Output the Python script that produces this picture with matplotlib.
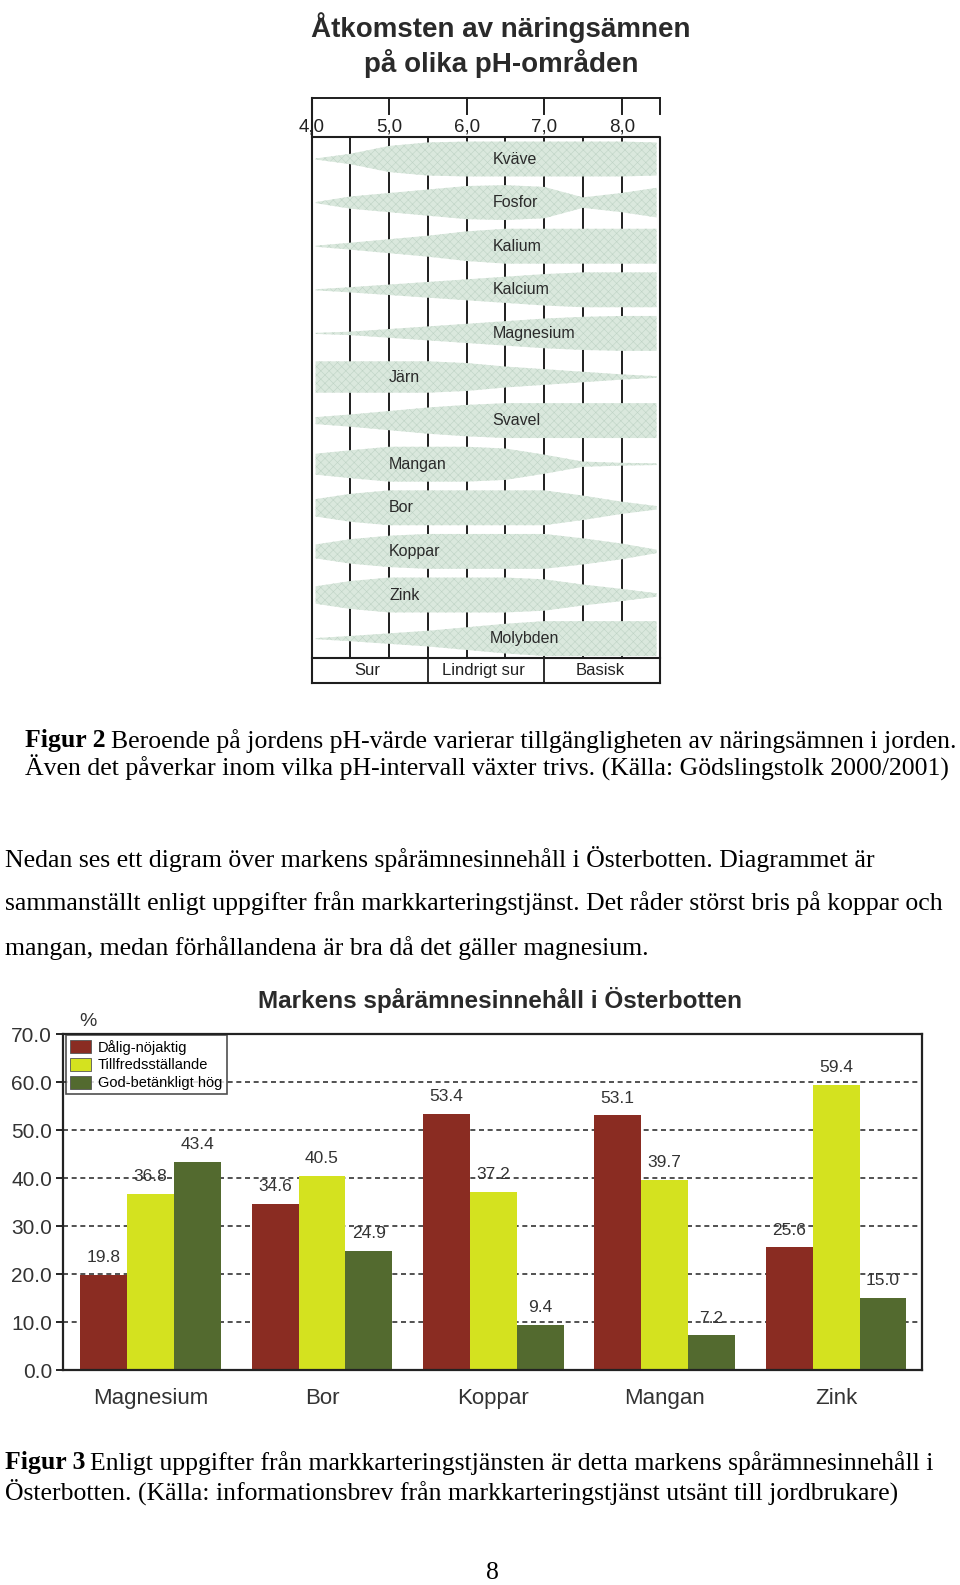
import matplotlib
matplotlib.use("Agg")
import matplotlib.pyplot as plt
import numpy as np
from matplotlib.patches import Patch

W, H = 960, 1585

# --- data: pH-diagram (relativ bandtjocklek vid varje pH) ---
ph = [4.05, 4.5, 5.0, 5.5, 6.0, 6.5, 7.0, 7.5, 8.0, 8.45]
naring = ["Kväve", "Fosfor", "Kalium", "Kalcium", "Magnesium", "Järn",
          "Svavel", "Mangan", "Bor", "Koppar", "Zink", "Molybden"]
kvave = [0.03, 0.3, 0.75, 0.95, 1.0, 1.0, 1.0, 1.0, 1.0, 0.95]
fosfor = [0.03, 0.35, 0.55, 0.75, 0.95, 1.0, 0.9, 0.3, 0.55, 0.85]
kalium = [0.03, 0.2, 0.4, 0.6, 0.85, 1.0, 1.0, 1.0, 1.0, 1.0]
kalcium = [0.03, 0.15, 0.3, 0.45, 0.6, 0.75, 0.9, 1.0, 1.0, 1.0]
magnesium = [0.03, 0.1, 0.25, 0.4, 0.55, 0.7, 0.85, 0.95, 1.0, 1.0]
jarn = [0.9, 0.9, 0.9, 0.9, 0.8, 0.6, 0.45, 0.3, 0.15, 0.05]
svavel = [0.2, 0.35, 0.55, 0.75, 0.9, 1.0, 1.0, 1.0, 1.0, 1.0]
mangan = [0.6, 0.8, 1.0, 1.0, 1.0, 0.9, 0.55, 0.15, 0.08, 0.05]
bor = [0.5, 0.8, 1.0, 1.0, 1.0, 1.0, 1.0, 0.7, 0.35, 0.1]
koppar = [0.4, 0.7, 0.9, 1.0, 1.0, 1.0, 1.0, 0.75, 0.45, 0.1]
zink = [0.5, 0.8, 1.0, 1.0, 1.0, 1.0, 0.9, 0.6, 0.35, 0.1]
molybden = [0.03, 0.15, 0.3, 0.45, 0.65, 0.85, 1.0, 1.0, 1.0, 1.0]
band = [kvave, fosfor, kalium, kalcium, magnesium, jarn,
        svavel, mangan, bor, koppar, zink, molybden]
ph_ticks = [4.0, 5.0, 6.0, 7.0, 8.0]
omraden = ["Sur", "Lindrigt sur", "Basisk"]

# --- data: stapeldiagram ---
amnen = ["Magnesium", "Bor", "Koppar", "Mangan", "Zink"]
dalig = [19.8, 34.6, 53.4, 53.1, 25.6]
tillfreds = [36.8, 40.5, 37.2, 39.7, 59.4]
god = [43.4, 24.9, 9.4, 7.2, 15.0]
serie_namn = ["Dålig-nöjaktig", "Tillfredsställande", "God-betänkligt hög"]

narrow = ["Liberation Sans Narrow", "Liberation Sans"]
sans = "Liberation Sans"
serif = "Liberation Serif"

fig = plt.figure(figsize=(W / 100, H / 100), dpi=100)


def rect(x, y, w, h):
    return [x / W, 1 - (y + h) / H, w / W, h / H]


def ftext(x, y, s, **kw):
    kw.setdefault("va", "center")
    return fig.text(x / W, 1 - y / H, s, **kw)


# ================= pH-diagram =================
px0, px_per = 311.7, 77.5
ry0, rstep = 159.0, 43.6
ax1 = fig.add_axes(rect(290, 85, 390, 605))
ax1.set_xlim(4 + (290 - px0) / px_per, 4 + (680 - px0) / px_per)
ax1.set_ylim((690 - ry0) / rstep, (85 - ry0) / rstep)
ax1.axis("off")

top, bot, bot2, rul = -0.505, 11.445, 12.02, -1.40
lc = "#1e1e1e"
for p in np.arange(4.5, 8.01, 0.5):
    ax1.plot([p, p], [top, bot], color=lc, lw=1.4, zorder=1)
ax1.plot([4.0, 8.5], [rul, rul], color=lc, lw=1.4)
for p in ph_ticks[1:]:
    ax1.plot([p, p], [rul, rul + 0.36], color=lc, lw=1.4)
ax1.plot([8.5, 8.5], [rul, rul + 0.36], color=lc, lw=1.4)
ax1.plot([4.0, 4.0], [rul, bot2], color=lc, lw=1.5)
ax1.plot([4.0, 8.5, 8.5], [top, top, bot2], color=lc, lw=1.5)
ax1.plot([4.0, 8.5], [bot, bot], color=lc, lw=1.5)
ax1.plot([4.0, 8.5], [bot2, bot2], color=lc, lw=1.5)
for p in [5.5, 7.0]:
    ax1.plot([p, p], [bot, bot2], color=lc, lw=1.3)
for p in ph_ticks:
    ax1.text(p, -0.73, f"{p:.1f}".replace(".", ","), ha="center", va="center",
             family=narrow, fontsize=13.5, color="#222")
for p, s in zip([4.72, 6.22, 7.72], omraden):
    ax1.text(p, (bot + bot2) / 2, s, ha="center", va="center",
             family=narrow, fontsize=12, color="#222")

plt.rcParams["hatch.linewidth"] = 0.4
lab_ph = [6.33, 6.33, 6.33, 6.33, 6.33, 5.0, 6.33, 5.0, 5.0, 5.0, 5.0, 6.30]
for i, (namn, t) in enumerate(zip(naring, band)):
    half = np.array(t) * 0.40
    ax1.fill_between(ph, i - half, i + half, facecolor="#dae8dd",
                     edgecolor="#bfd3c5", hatch="xxxx", linewidth=0, zorder=2)
    ax1.text(lab_ph[i], i, namn, ha="left", va="center", family=narrow,
             fontsize=11.5, color="#2a2a2a", zorder=3)

ftext(501, 28, "Åtkomsten av näringsämnen", ha="center", family=sans,
      weight="bold", fontsize=20, color="#2a2a2a")
ftext(501, 63, "på olika pH-områden", ha="center", family=sans,
      weight="bold", fontsize=20, color="#2a2a2a")

# ================= brödtext =================
renderer = fig.canvas.get_renderer()
tsize = 18.5


def caption(x, y, bold, rest):
    t = fig.text(x / W, 1 - y / H, bold, family=serif, weight="bold",
                 fontsize=tsize, va="center")
    bb = t.get_window_extent(renderer)
    fig.text((bb.x1 + 5) / W, 1 - y / H, rest, family=serif,
             fontsize=tsize, va="center")


caption(25, 741, "Figur 2",
        "Beroende på jordens pH-värde varierar tillgängligheten av näringsämnen i jorden.")
ftext(25, 768, "Även det påverkar inom vilka pH-intervall växter trivs. (Källa: Gödslingstolk 2000/2001)",
      family=serif, fontsize=tsize)
ftext(5, 859, "Nedan ses ett digram över markens spårämnesinnehåll i Österbotten. Diagrammet är",
      family=serif, fontsize=tsize)
ftext(5, 903, "sammanställt enligt uppgifter från markkarteringstjänst. Det råder störst bris på koppar och",
      family=serif, fontsize=tsize)
ftext(5, 948, "mangan, medan förhållandena är bra då det gäller magnesium.",
      family=serif, fontsize=tsize)
caption(5, 1463, "Figur 3",
        "Enligt uppgifter från markkarteringstjänsten är detta markens spårämnesinnehåll i")
ftext(5, 1492, "Österbotten. (Källa: informationsbrev från markkarteringstjänst utsänt till jordbrukare)",
      family=serif, fontsize=tsize)
ftext(492, 1573, "8", ha="center", family=serif, fontsize=tsize)

# ================= stapeldiagram =================
ax2 = fig.add_axes(rect(63.3, 1034.3, 858.4, 335.7))
x = np.arange(len(amnen))
w = 0.274
farger = ["#8a2c22", "#d4e21f", "#536a2f"]
for k, (vals, c) in enumerate(zip([dalig, tillfreds, god], farger)):
    bars = ax2.bar(x + (k - 1) * w, vals, w, color=c, zorder=2)
    for b, v in zip(bars, vals):
        ax2.annotate(f"{v:.1f}", (b.get_x() + b.get_width() / 2, v),
                     xytext=(0, 7), textcoords="offset points", ha="center",
                     va="bottom", family=sans, fontsize=12.5, color="#333")

ax2.set_xlim(-0.51, 4.5)
ax2.set_ylim(0, 70)
yt = np.arange(0, 71, 10)
ax2.set_yticks(yt)
ax2.set_yticklabels([f"{v:.1f}" for v in yt], family=sans, fontsize=15, color="#333")
for v in yt[1:-1]:
    ax2.axhline(v, color="#333", lw=1.2, ls=(0, (3, 2.2)), zorder=1)
ax2.tick_params(axis="y", length=5, width=1.2, pad=3)
ax2.set_xticks(x)
ax2.set_xticklabels(amnen, family=sans, fontsize=16, color="#333")
ax2.tick_params(axis="x", length=0, pad=13)
for s in ax2.spines.values():
    s.set_linewidth(1.6)
    s.set_color("#222")

handles = [Patch(facecolor=c, edgecolor="#555", lw=0.6) for c in farger]
leg = ax2.legend(handles, serie_namn, loc="upper left", bbox_to_anchor=(0.003, 0.997),
                 prop={"family": sans, "size": 10.5}, frameon=True, fancybox=False,
                 borderpad=0.3, labelspacing=0.22, handlelength=1.4,
                 handleheight=1.0, handletextpad=0.5, borderaxespad=0)
leg.get_frame().set_edgecolor("#222")
leg.get_frame().set_linewidth(1.2)

ftext(88, 1022, "%", ha="center", family=sans, fontsize=14, color="#333")
ftext(500, 1000, "Markens spårämnesinnehåll i Österbotten", ha="center",
      family=sans, weight="bold", fontsize=17.5, color="#2a2a2a")

fig.savefig("out.png", dpi=100)
